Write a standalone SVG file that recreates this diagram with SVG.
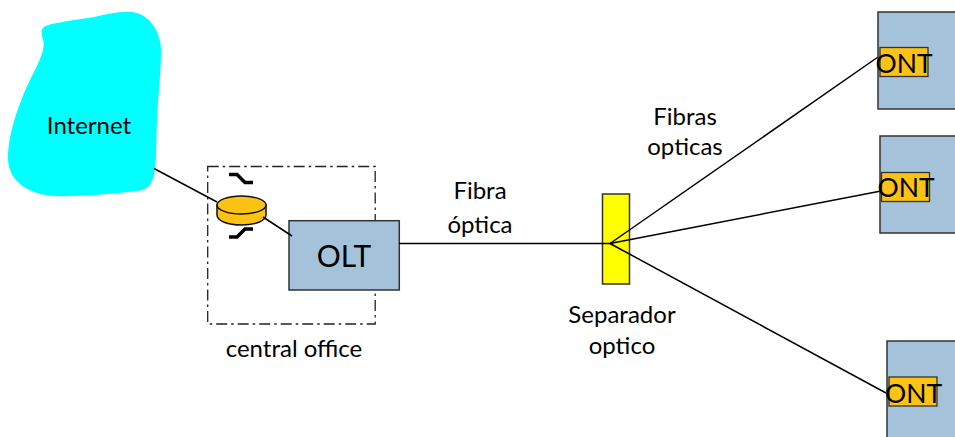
<svg xmlns="http://www.w3.org/2000/svg" width="955" height="437" viewBox="0 0 955 437">
<style>
text{font-family:Lato,"Noto Sans","Liberation Sans",sans-serif;fill:#000;text-anchor:middle}
.l{font-size:24px}
.n{font-size:26.500px}
.o{font-size:30px}
.box{fill:#a4c2da;stroke:#333;stroke-width:1.5}
.ont{fill:#fcc214;stroke:#333;stroke-width:1.3}
.c{fill:none;stroke:#000;stroke-width:1.5}
.s{fill:none;stroke:#000;stroke-width:3.5}
</style>
<rect width="955" height="437" fill="#fff"/>
<g id="central-office"><rect x="207.700" y="166.500" width="167.500" height="157.500" fill="none" stroke="#222" stroke-width="1.300" stroke-dasharray="11 4 2.500 4"/></g>
<g id="internet">
<path d="M44 27C50 23 70 21 88 18C105 15 122 9 137 13C152 18 161 34 161 50C161 75 158 95 157 120C156 140 157 160 154 175C151 186 147 190 137 191C110 194 80 197 55 196C30 195 8 182 8 158C8 130 22 95 35 70C43 54 45 45 43 40C41 33 41 29 44 27Z" fill="#0ff"/>
<text class="l" x="89" y="134">Internet</text>
</g>
<g id="splitter"><rect x="602.500" y="194" width="27" height="90" fill="#ff0" stroke="#333" stroke-width="1.500"/></g>
<g id="router">
<path d="M217 205V215C217 221 228 225 241.500 225S266 221 266 215V205Z" fill="#fcc214" stroke="#111" stroke-width="1.500"/>
<ellipse cx="241.500" cy="205" rx="24.500" ry="9" fill="#fcc214" stroke="#111" stroke-width="1.500"/>
<path class="s" d="M229 174.500H237L245 182.500H253"/>
<path class="s" d="M229 237H237L245 229H253"/>
</g>
<g id="olt">
<rect class="box" x="289" y="220.700" width="110.300" height="69.300"/>
<text class="o" x="344" y="267">OLT</text>
</g>
<g id="connectors">
<path class="c" d="M154 168.500L217 202"/>
<path class="c" d="M263 217L292 236"/>
<path class="c" d="M399 243.500H611"/>
<path class="c" d="M610 243.500L878 57"/>
<path class="c" d="M610 243.500L881 191"/>
<path class="c" d="M610 243.500L886 393"/>
</g>
<g id="ont1">
<rect class="box" x="878" y="12" width="85" height="97"/>
<rect class="ont" x="880" y="47.500" width="48" height="29"/>
<text class="n" x="904" y="73">ONT</text>
</g>
<g id="ont2">
<rect class="box" x="880" y="136" width="85" height="97"/>
<rect class="ont" x="881.500" y="172.500" width="48" height="29"/>
<text class="n" x="906" y="197">ONT</text>
</g>
<g id="ont3">
<rect class="box" x="887" y="341" width="85" height="110"/>
<rect class="ont" x="889" y="377" width="48" height="29"/>
<text class="n" x="913.500" y="403">ONT</text>
</g>
<g id="labels">
<text class="l" x="294" y="357">central office</text>
<text class="l" x="480" y="199">Fibra</text>
<text class="l" x="480" y="233">óptica</text>
<text class="l" x="685" y="125">Fibras</text>
<text class="l" x="685" y="155">opticas</text>
<text class="l" x="622" y="323">Separador</text>
<text class="l" x="622" y="354">optico</text>
</g>
</svg>
